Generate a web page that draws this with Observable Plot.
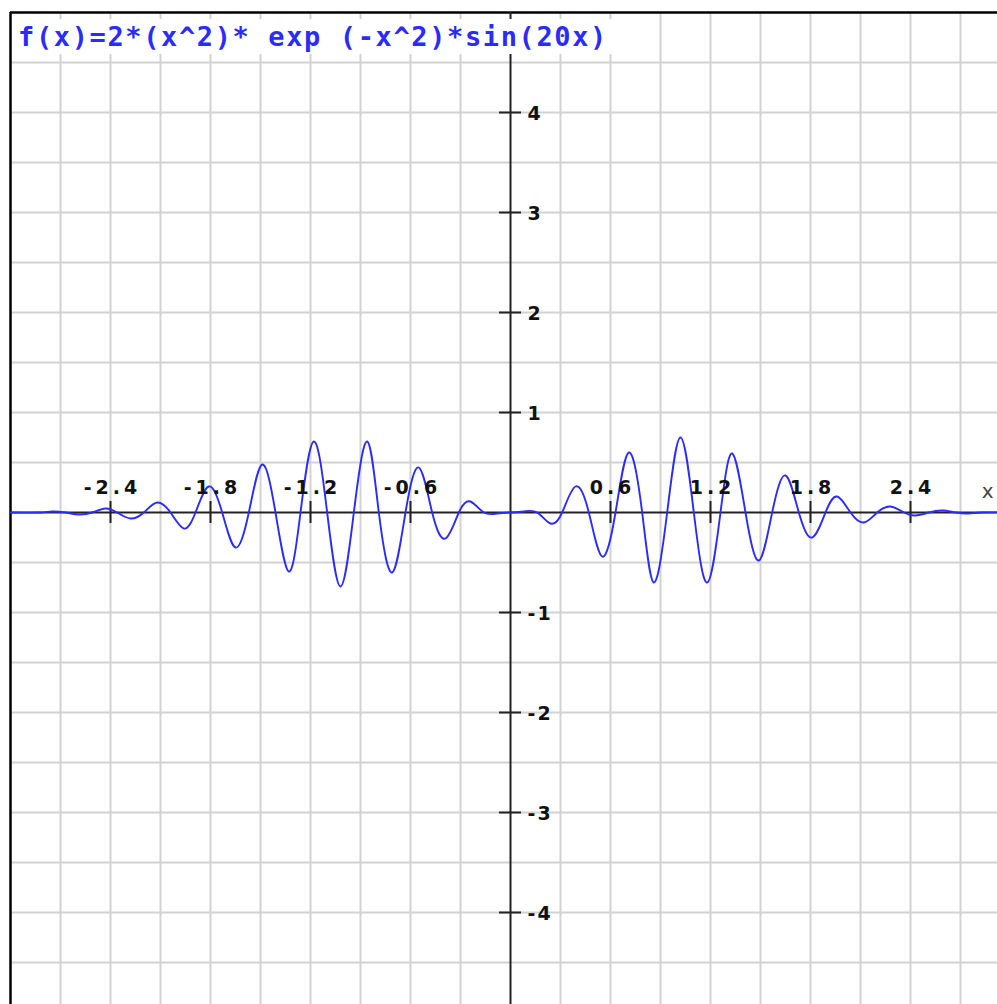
<!DOCTYPE html>
<html><head><meta charset="utf-8">
<script src="https://cdn.jsdelivr.net/npm/d3@7"></script>
<script src="https://cdn.jsdelivr.net/npm/@observablehq/plot@0.6"></script>
<style>
html,body{margin:0;padding:0;background:#fff;}
#wrap{position:relative;width:997px;height:1004px;overflow:hidden;}
#wrap svg{position:absolute;left:0;top:0;}
#title{position:absolute;left:12px;top:19px;width:600px;height:35px;background:#fff;color:#2b2bff;font-family:"DejaVu Sans Mono",monospace;font-weight:bold;font-size:27px;letter-spacing:1.62px;line-height:35px;padding-left:6px;box-sizing:border-box;white-space:pre;z-index:2;}
</style></head><body>
<div id="wrap"></div>
<script>
const titleText = "f(x)=2*(x^2)* exp (-x^2)*sin(20x)";
const axisLabelX = "x";
const xTicks = [-2.4, -1.8, -1.2, -0.6, 0.6, 1.2, 1.8, 2.4];
const xTickLabels = ["-2.4", "-1.8", "-1.2", "-0.6", "0.6", "1.2", "1.8", "2.4"];
const yTicks = [-4, -3, -2, -1, 1, 2, 3, 4];
const yTickLabels = ["-4", "-3", "-2", "-1", "1", "2", "3", "4"];
const gridX = [-2.7, -2.4, -2.1, -1.8, -1.5, -1.2, -0.9, -0.6, -0.3, 0.3, 0.6, 0.9, 1.2, 1.5, 1.8, 2.1, 2.4, 2.7];
const gridY = [-4.5, -4, -3.5, -3, -2.5, -2, -1.5, -1, -0.5, 0.5, 1, 1.5, 2, 2.5, 3, 3.5, 4, 4.5];

// curve: zero crossings and extrema
const curveX = [
  -3.0, -2.83, -2.75, -2.67, -2.59, -2.51, -2.43, -2.36, -2.28, -2.20, -2.12, -2.04,
  -1.96, -1.89, -1.81, -1.73, -1.65, -1.57, -1.49, -1.41, -1.33, -1.26, -1.18, -1.10,
  -1.02, -0.94, -0.86, -0.79, -0.71, -0.63, -0.55, -0.47, -0.39, -0.31, -0.24, -0.16, -0.08,
  0,
  0.08, 0.16, 0.24, 0.31, 0.39, 0.47, 0.55, 0.63, 0.71, 0.79, 0.86, 0.94,
  1.02, 1.10, 1.18, 1.26, 1.33, 1.41, 1.49, 1.57, 1.65, 1.73, 1.81, 1.89,
  1.96, 2.04, 2.12, 2.20, 2.28, 2.36, 2.43, 2.51, 2.59, 2.67, 2.75, 2.83, 3.0
];
const curveY = [
  0, 0, 0.01, 0, -0.02, 0, 0.04, 0, -0.06, 0, 0.10, 0,
  -0.16, 0, 0.26, 0, -0.35, 0, 0.48, 0, -0.59, 0, 0.71, 0,
  -0.74, 0, 0.71, 0, -0.60, 0, 0.45, 0, -0.26, 0, 0.11, 0, -0.01,
  0,
  0.01, 0, -0.11, 0, 0.26, 0, -0.44, 0, 0.60, 0, -0.70, 0,
  0.75, 0, -0.70, 0, 0.59, 0, -0.48, 0, 0.37, 0, -0.25, 0,
  0.16, 0, -0.10, 0, 0.06, 0, -0.03, 0, 0.02, 0, -0.01, 0, 0
];

const curve = curveX.map((x, i) => ({x, y: curveY[i]}));
const xTickData = xTicks.map((v, i) => ({v, label: xTickLabels[i]}));
const yTickData = yTicks.map((v, i) => ({v, label: yTickLabels[i]}));

const blue = "#2b2bff";
const gridColor = "#d2d2d2";
const axisColor = "#222";

const chart = Plot.plot({
  width: 997,
  height: 1004,
  marginLeft: 10,
  marginTop: 12,
  marginRight: 0,
  marginBottom: 0,
  x: {domain: [-3, 3], range: [10, 1010], axis: null},
  y: {domain: [-5, 5], range: [1012, 12], axis: null},
  style: {background: "#fff"},
  marks: [
    Plot.ruleX(gridX, {stroke: gridColor, strokeWidth: 2, strokeOpacity: 1}),
    Plot.ruleY(gridY, {stroke: gridColor, strokeWidth: 2, strokeOpacity: 1}),
    Plot.ruleX([-3], {stroke: "#000", strokeWidth: 2.5}),
    Plot.ruleY([5], {stroke: "#000", strokeWidth: 2.5}),
    Plot.ruleY([0], {stroke: axisColor, strokeWidth: 2}),
    Plot.ruleX([0], {stroke: axisColor, strokeWidth: 2}),
    Plot.ruleX(xTickData, {x: "v", y1: 0, y2: 0, insetTop: -11, insetBottom: -11, stroke: axisColor, strokeWidth: 2}),
    Plot.ruleY(yTickData, {y: "v", x1: 0, x2: 0, insetLeft: -11, insetRight: -11, stroke: axisColor, strokeWidth: 2}),
    Plot.line(curve, {x: "x", y: "y", curve: "natural", stroke: blue, strokeWidth: 1.9}),
    Plot.text(xTickData, {x: "v", y: 0, text: "label", dy: -24.5, dx: 2, textAnchor: "middle", lineAnchor: "middle",
      fontFamily: "DejaVu Sans", fontWeight: "bold", fontSize: 19, fill: "#111"}),
    Plot.text(yTickData, {x: 0, y: "v", text: "label", dx: 17, dy: 1.5, textAnchor: "start", lineAnchor: "middle",
      fontFamily: "DejaVu Sans", fontWeight: "bold", fontSize: 19, fill: "#111"}),
    Plot.text([axisLabelX], {frameAnchor: "right", dx: -4, dy: -17, textAnchor: "end", lineAnchor: "middle",
      fontFamily: "DejaVu Sans", fontSize: 20, fill: "#444"})
  ]
});

const wrap = document.getElementById("wrap");
wrap.appendChild(chart);
const textGroups = chart.querySelectorAll('g[aria-label="text"]');
if (textGroups[0]) textGroups[0].querySelectorAll("text").forEach(el => el.style.letterSpacing = "4px");
if (textGroups[1]) textGroups[1].querySelectorAll("text").forEach(el => el.style.letterSpacing = "2px");
const t = document.createElement("div");
t.id = "title";
t.textContent = titleText;
wrap.appendChild(t);
</script>
</body></html>
